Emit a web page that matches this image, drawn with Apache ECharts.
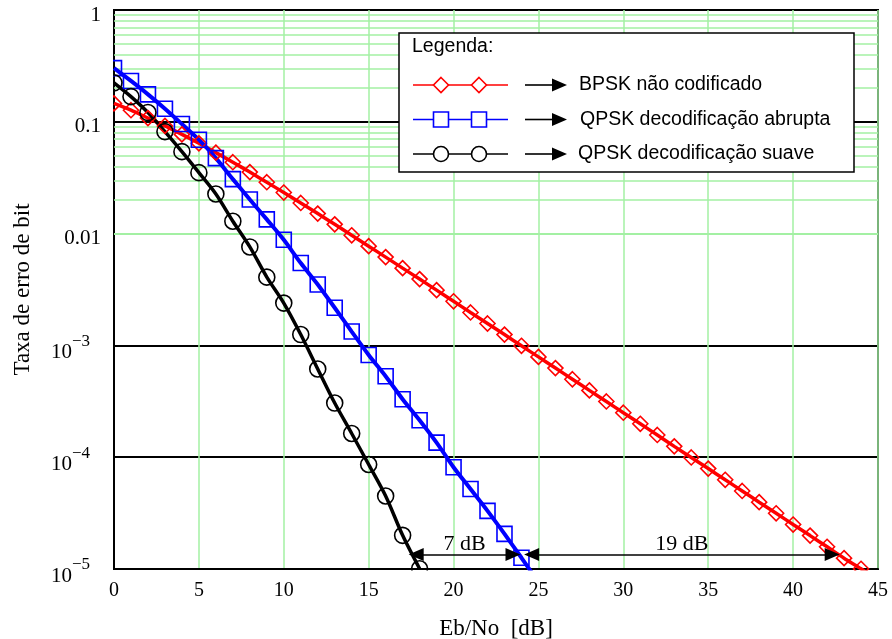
<!DOCTYPE html>
<html><head><meta charset="utf-8">
<script src="https://cdn.jsdelivr.net/npm/echarts@6/dist/echarts.min.js"></script>
<style>html,body{margin:0;padding:0;background:#fff}#c{width:892px;height:639px}</style>
</head><body><div id="c"></div>
<script>
// Eb/No in dB (marker positions)
const ebno = [0,1,2,3,4,5,6,7,8,9,10,11,12,13,14,15,16,17,18,19,20,21,22,23,24,25,26,27,28,29,30,31,32,33,34,35,36,37,38,39,40,41,42,43,44,45];
// BPSK uncoded (red diamonds)
const bpskUncoded = [0.146,0.127,0.108,0.0919,0.0771,0.0642,0.0530,0.0435,0.0355,0.0288,0.0233,0.0188,0.0151,0.0121,0.00966,0.00772,0.00616,0.00491,0.00392,0.00312,0.00248,0.00197,0.00157,0.00125,0.000992,0.000789,0.000627,0.000498,0.000396,0.000315,0.000250,0.000199,0.000158,0.000125,0.0000995,0.0000791,0.0000628,0.0000499,0.0000396,0.0000315,0.0000250,0.0000199,0.0000158,0.0000125,0.00001005,0.0000079];
// QPSK hard decoding (blue squares)
const qpskHard = [0.302,0.232,0.176,0.131,0.0955,0.0692,0.0473,0.0307,0.0202,0.0134,0.0088,0.00545,0.00351,0.00217,0.00133,0.00082,0.00053,0.00033,0.000214,0.000135,0.0000813,0.0000519,0.0000331,0.0000206,0.0000126,0.0000076];
// QPSK soft decoding (black circles)
const qpskSoft = [0.223,0.168,0.121,0.0817,0.0541,0.0351,0.0226,0.0129,0.0076,0.00408,0.00239,0.00125,0.000615,0.000305,0.000163,0.000086,0.000045,0.000020,0.00001005];
const legendTitle = 'Legenda:';
const legendLabels = ['BPSK não codificado','QPSK decodificação abrupta','QPSK decodificação suave'];
const gapFrom = [17.8, 24.6];
const gapTo = [23.5, 42.3];
const gapLabels = ['7 dB', '19 dB'];
const gapLevel = 1.35e-5;
const minorMultipliers = [2,3,4,5,6,7,8,9];
const decades = [-5,-4,-3,-2,-1];

const serif = '"Liberation Serif","Times New Roman",serif';
const sans = '"Liberation Sans",Arial,sans-serif';
const GREEN = '#a3f0a3';

function pairs(arr){ return arr.map((v,i)=>[ebno[i], v]); }

const minorLines = [];
decades.forEach(d => minorMultipliers.forEach(m => minorLines.push({yAxis: m*Math.pow(10,d)})));

const chart = echarts.init(document.getElementById('c'), null, {renderer:'canvas'});

function markerSeries(name, data, color, symbol, size, width){
  return {
    name, type:'line', data: pairs(data), smooth: 0.3, clip: true,
    symbol, symbolSize: size, showAllSymbol: true,
    lineStyle:{color, width}, itemStyle:{color:'rgba(0,0,0,0)', borderColor: color, borderWidth: 1.6},
    emphasis:{disabled:true}, z: 3
  };
}

const option = {
  animation:false,
  backgroundColor:'#fff',
  grid:{left:114, top:10, right:14, bottom:70, show:true, borderColor:'#000', borderWidth:2, backgroundColor:'#fff', containLabel:false, outerBoundsMode:'none'},
  xAxis:{
    type:'value', min:0, max:45, interval:5,
    name:'Eb/No  [dB]', nameLocation:'middle', nameGap:48,
    nameTextStyle:{fontFamily:serif, fontSize:23, color:'#000'},
    axisLine:{show:true, lineStyle:{color:'#000', width:2}},
    axisTick:{show:false},
    axisLabel:{fontFamily:serif, fontSize:20, color:'#000', margin:12},
    splitLine:{show:true, lineStyle:{color:GREEN, width:1.5}}
  },
  yAxis:{
    type:'log', logBase:10, min:1e-5, max:1,
    name:'Taxa de erro de bit', nameLocation:'middle', nameGap:80,
    nameTextStyle:{fontFamily:serif, fontSize:23, color:'#000'},
    axisLine:{show:true, lineStyle:{color:'#000', width:2}},
    axisTick:{show:false},
    axisLabel:{
      fontFamily:serif, fontSize:21, color:'#000', margin:13, padding:[10,0,0,0],
      formatter:function(v){
        const e = Math.round(Math.log10(v));
        if (e===0) return '1';
        if (e===-1) return '0.1';
        if (e===-2) return '0.01';
        return '{b|10}{s|\u2212' + (-e) + '}{p| }';
      },
      rich:{
        b:{fontFamily:serif, fontSize:21, color:'#000', padding:[4,0,0,0]},
        s:{fontFamily:serif, fontSize:17, color:'#000', padding:[0,0,18,0]},
        p:{width:11, fontSize:10}
      }
    },
    splitLine:{show:true, lineStyle:{color:'#000', width:2}}
  },
  series:[
    {
      type:'line', data:[], silent:true, z:1,
      markLine:{silent:true, symbol:'none', z:1, animation:false,
        label:{show:false}, lineStyle:{color:GREEN, width:1.5, type:'solid'},
        emphasis:{disabled:true}, data: minorLines}
    },
    markerSeries('BPSK', bpskUncoded, '#ff0000', 'diamond', 15, 3.5),
    markerSeries('QPSK hard', qpskHard, '#0000ff', 'rect', 15, 4),
    markerSeries('QPSK soft', qpskSoft, '#000000', 'circle', 16, 3.5),
    {
      type:'line', data:[], silent:true, z:5,
      markLine:{silent:true, z:6, animation:false,
        symbol:['triangle','triangle'], symbolSize:[13,15],
        lineStyle:{color:'#000', width:1.5, type:'solid'},
        itemStyle:{color:'#000'},
        label:{show:true, position:'middle', fontFamily:serif, fontSize:22, color:'#000', distance:-1},
        emphasis:{disabled:true},
        data: gapLabels.map((t,i)=>[
          {coord:[gapFrom[i], gapLevel], name:t, label:{formatter:t}},
          {coord:[gapTo[i], gapLevel]}
        ])
      }
    }
  ]
};

// Legend box (custom, as in the original)
const rowsY = [85, 119.5, 154];
const textX = [579, 580, 578];
const colors = ['#ff0000','#0000ff','#000000'];
const g = [];
g.push({type:'rect', shape:{x:399, y:33, width:455, height:139}, style:{fill:'#fff', stroke:'#000', lineWidth:1.5}, z:10});
g.push({type:'text', x:412, y:47, style:{text:legendTitle, font:'19.5px '+sans, fill:'#000', textVerticalAlign:'middle'}, z:11});
rowsY.forEach((y,i)=>{
  const c = colors[i];
  g.push({type:'line', shape:{x1:413, y1:y, x2:508, y2:y}, style:{stroke:c, lineWidth:1.5}, z:11});
  [441,479].forEach(cx=>{
    if (i===0) g.push({type:'polygon', shape:{points:[[cx,y-7.5],[cx+7.5,y],[cx,y+7.5],[cx-7.5,y]]}, style:{fill:'#fff', stroke:c, lineWidth:1.6}, z:12});
    else if (i===1) g.push({type:'rect', shape:{x:cx-7.5, y:y-7.5, width:15, height:15}, style:{fill:'#fff', stroke:c, lineWidth:1.6}, z:12});
    else g.push({type:'circle', shape:{cx:cx, cy:y, r:7.5}, style:{fill:'#fff', stroke:c, lineWidth:1.6}, z:12});
  });
  g.push({type:'line', shape:{x1:525, y1:y, x2:555, y2:y}, style:{stroke:'#000', lineWidth:1.6}, z:11});
  g.push({type:'polygon', shape:{points:[[552,y-6.5],[567,y],[552,y+6.5]]}, style:{fill:'#000'}, z:11});
  g.push({type:'text', x:textX[i], y:y, style:{text:legendLabels[i], font:'19.5px '+sans, fill:'#000', textVerticalAlign:'middle'}, z:11});
});
// white masks that clip markers at the plot edges (bottom and left)
g.push({type:'rect', shape:{x:100, y:570.5, width:792, height:10}, style:{fill:'#fff'}, z:8});
g.push({type:'rect', shape:{x:102, y:0, width:11, height:580}, style:{fill:'#fff'}, z:8});
option.graphic = g;

chart.setOption(option);
</script></body></html>
